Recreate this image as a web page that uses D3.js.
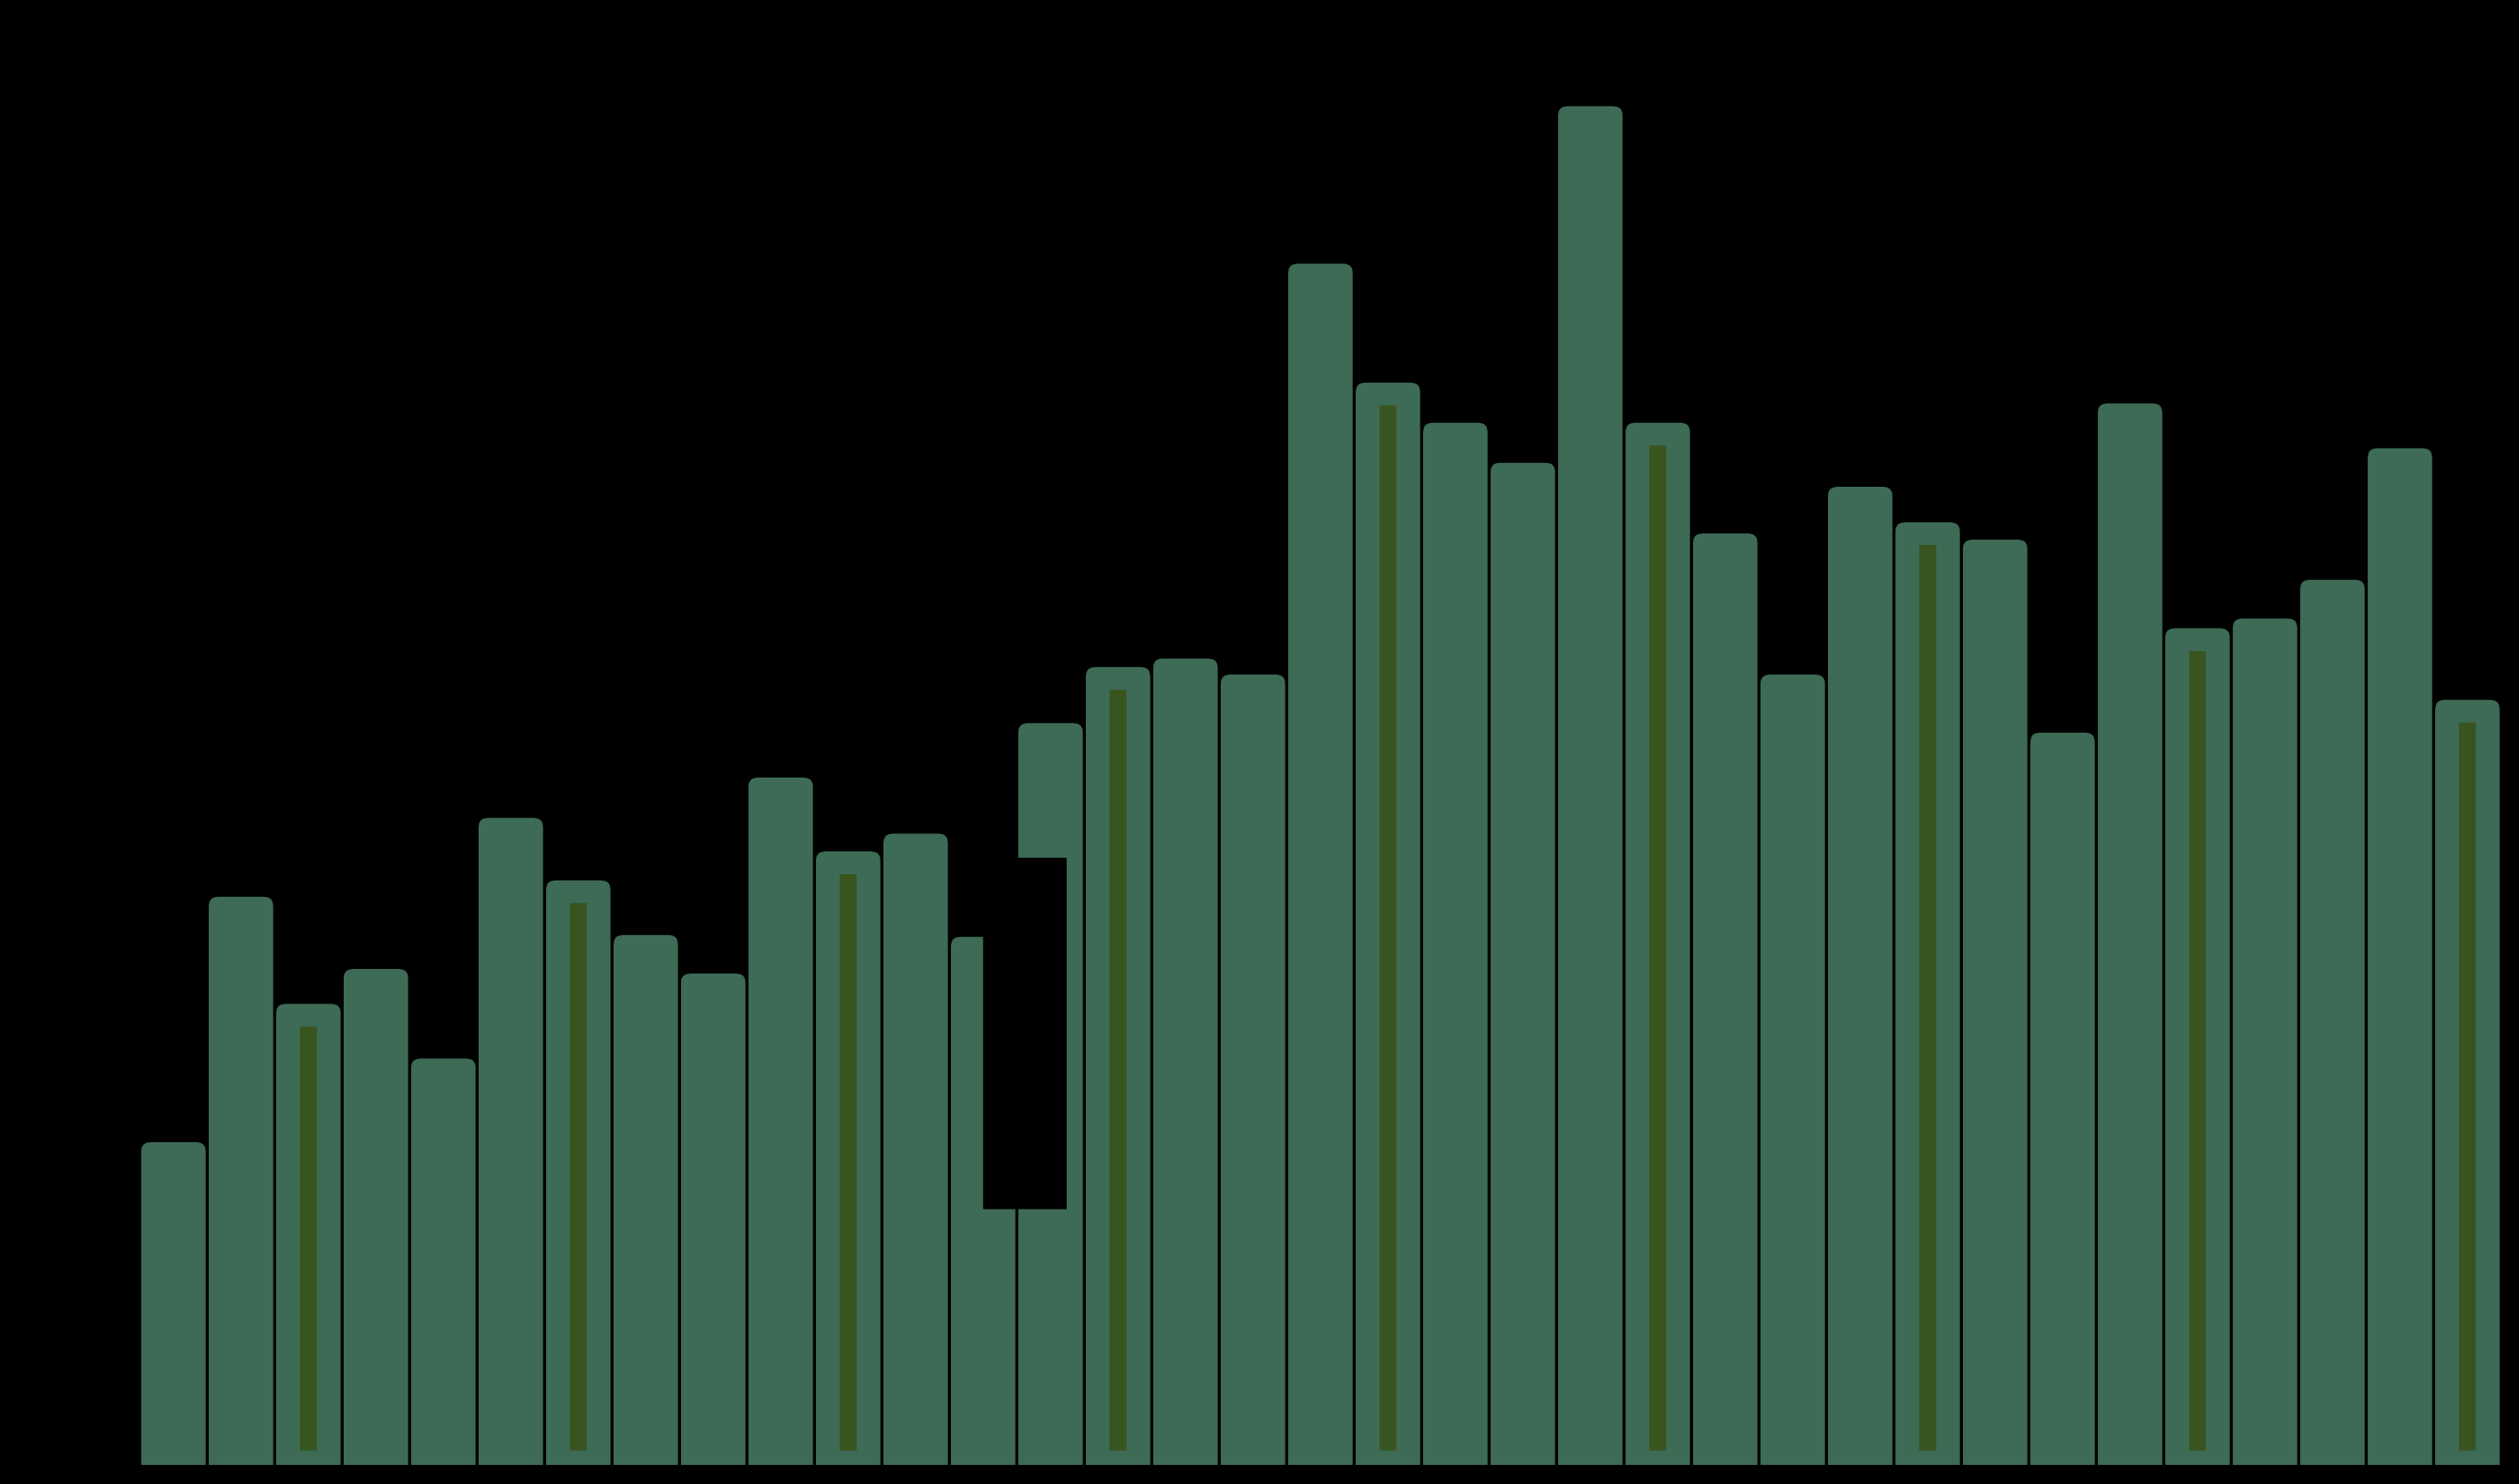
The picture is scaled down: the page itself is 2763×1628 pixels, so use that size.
<!DOCTYPE html>
<html>
<head>
<meta charset="utf-8">
<script src="https://cdn.jsdelivr.net/npm/d3@7"></script>
<style>
  html, body { margin: 0; padding: 0; background: #000; }
  svg { display: block; }
</style>
</head>
<body>
<svg id="chart" width="2763" height="1628"></svg>
<script>
// ---- data ----
const categories = d3.range(1, 36).map(i => "C" + i);
const values = [
  88.6, 155.9, 126.5, 136.1, 111.5, 177.5, 160.4, 145.4, 134.8, 188.6,
  168.3, 173.2, 144.9, 203.5, 218.9, 221.2, 216.8, 329.5, 296.9, 285.9,
  274.9, 372.7, 285.9, 255.5, 216.8, 268.3, 258.6, 253.8, 200.9, 291.2,
  229.5, 232.2, 242.8, 278.9, 209.9
];
// every fourth bar (starting with the third) carries an inner highlight
const highlighted = categories.filter((c, i) => i % 4 === 2);
// black overlay box spanning categories 13-14
const overlayFrom = "C13";
const overlayTo = "C14";
const overlayLow = 70.2;
const overlayHigh = 166.6;

// ---- layout ----
const W = 2763, H = 1628;
const svg = d3.select("#chart");
svg.append("rect").attr("width", W).attr("height", H).attr("fill", "#000");

const x = d3.scaleBand()
  .domain(categories)
  .range([153.3, 2743.4])
  .paddingInner(0.045)
  .paddingOuter(0.0225);

const y = d3.scaleLinear()
  .domain([0, 400])
  .range([1607.3, 7.3]);

const barColor = "#3d6b56";
const innerColor = "#38541f";
const r = 10;

function topRounded(x0, y0, w, h, rad) {
  const rr = Math.min(rad, w / 2, h);
  return `M${x0},${y0 + h}` +
    `V${y0 + rr}` +
    `Q${x0},${y0} ${x0 + rr},${y0}` +
    `H${x0 + w - rr}` +
    `Q${x0 + w},${y0} ${x0 + w},${y0 + rr}` +
    `V${y0 + h}Z`;
}

const data = categories.map((c, i) => ({ c, v: values[i] }));

svg.append("g").selectAll("path.bar")
  .data(data)
  .join("path")
  .attr("class", "bar")
  .attr("fill", barColor)
  .attr("d", d => topRounded(x(d.c), y(d.v), x.bandwidth(), y(0) - y(d.v), r));

// inner highlight bars
const innerW = 18.4, innerTopInset = 25, innerBottomInset = 16;
svg.append("g").selectAll("rect.inner")
  .data(data.filter(d => highlighted.includes(d.c)))
  .join("rect")
  .attr("class", "inner")
  .attr("fill", innerColor)
  .attr("x", d => x(d.c) + x.bandwidth() / 2 - innerW / 2)
  .attr("y", d => y(d.v) + innerTopInset)
  .attr("width", innerW)
  .attr("height", d => (y(0) - innerBottomInset) - (y(d.v) + innerTopInset));

// black overlay box
const ox0 = x(overlayFrom) + x.bandwidth() / 2;
const ox1 = x(overlayTo) + x.bandwidth() * 0.75;
svg.append("rect")
  .attr("fill", "#000")
  .attr("x", ox0)
  .attr("y", y(overlayHigh))
  .attr("width", ox1 - ox0)
  .attr("height", y(overlayLow) - y(overlayHigh));

// x axis (black on black, as in the reference)
const xAxis = svg.append("g")
  .attr("transform", `translate(0,${y(0)})`)
  .call(d3.axisBottom(x).tickFormat("").tickSize(5));
xAxis.selectAll("line,path").attr("stroke", "#000");
</script>
</body>
</html>
